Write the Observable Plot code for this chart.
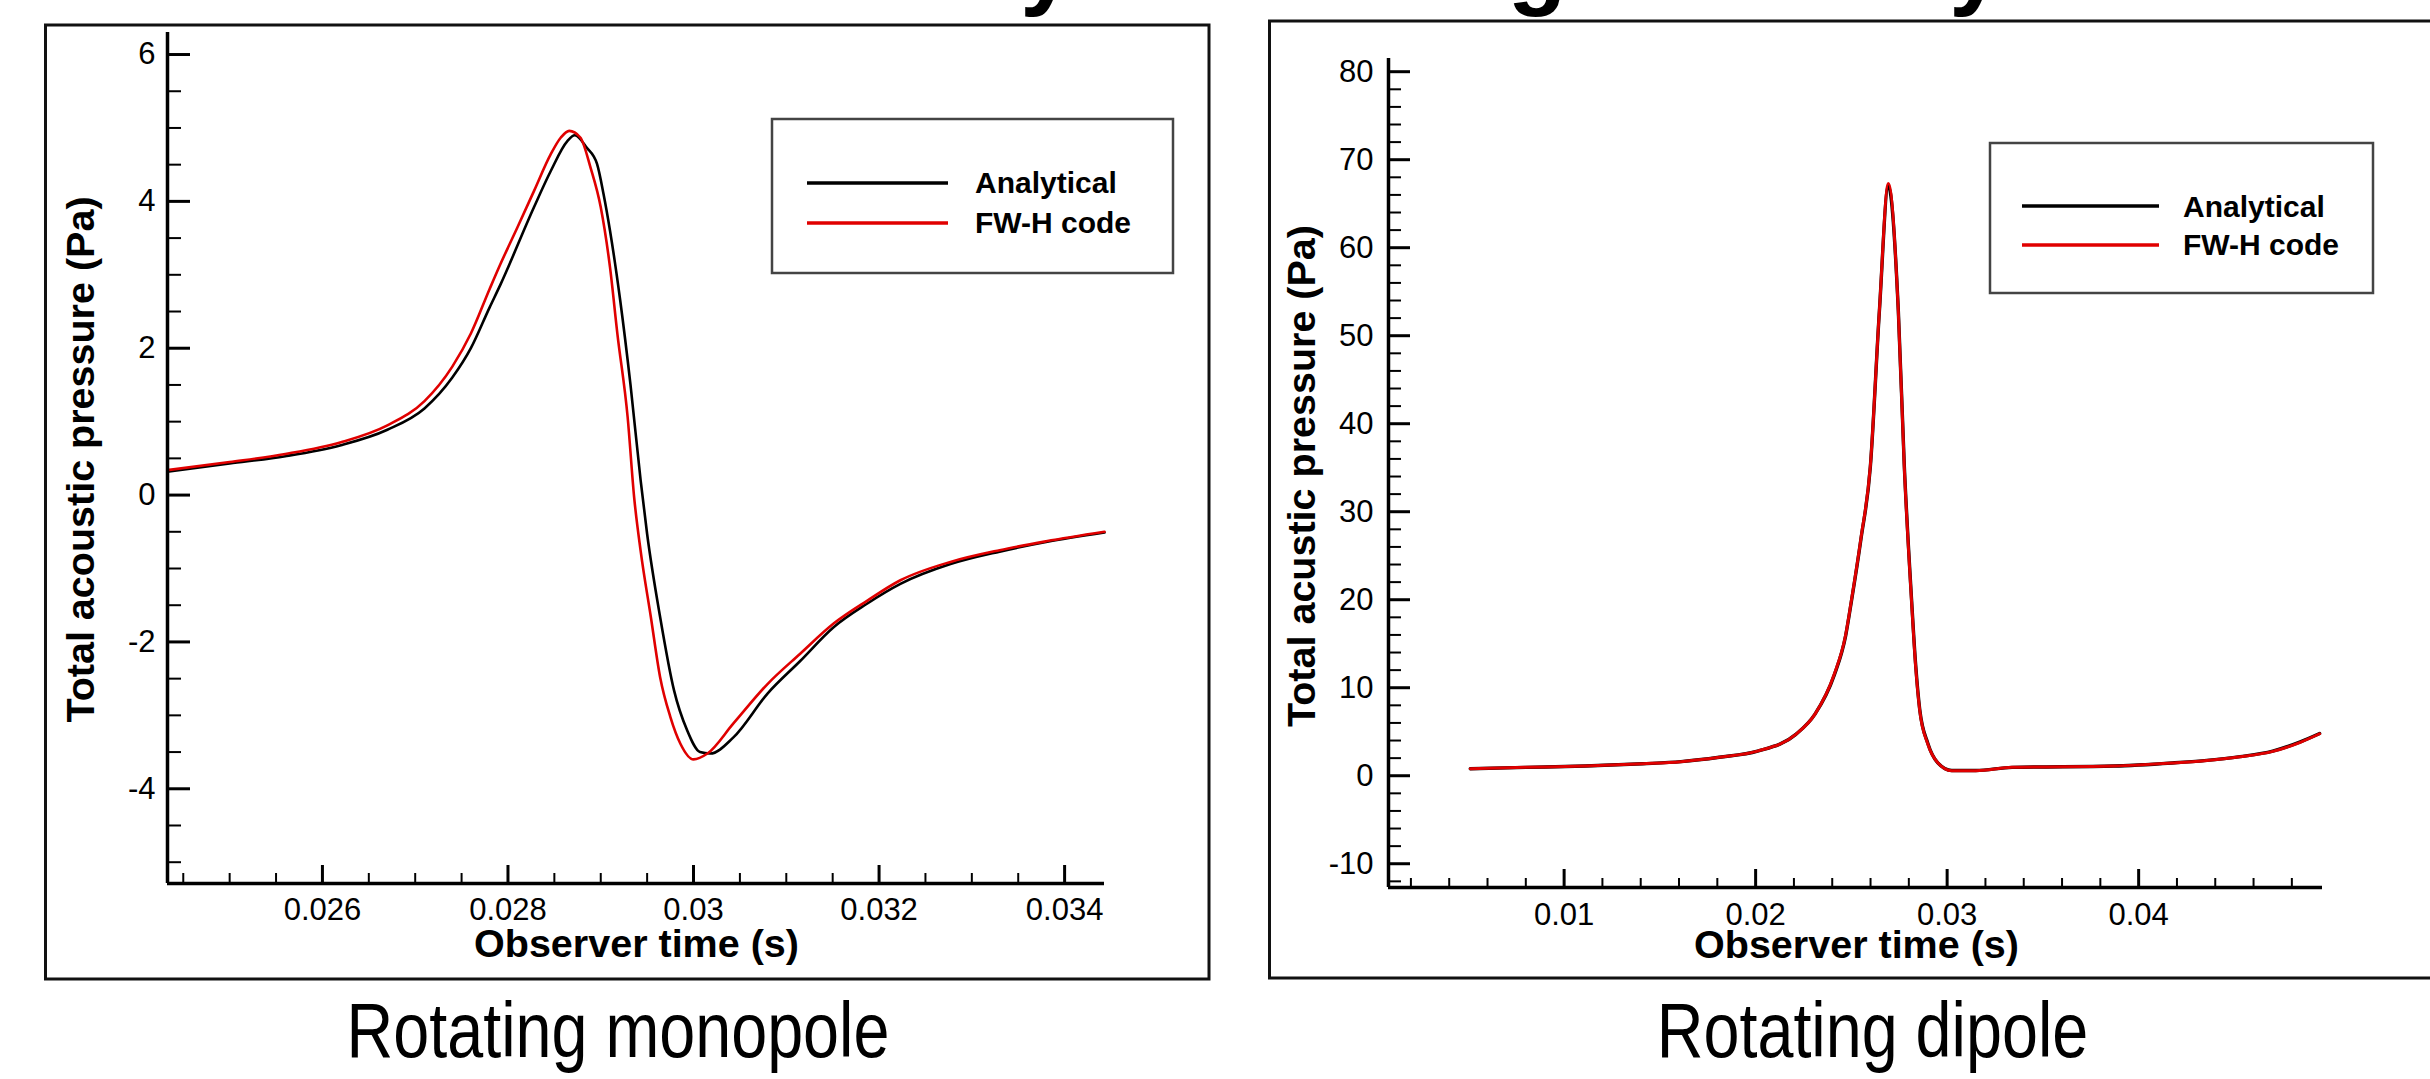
<!DOCTYPE html>
<html><head><meta charset="utf-8">
<script src="https://cdn.jsdelivr.net/npm/d3@7"></script>
<script src="https://cdn.jsdelivr.net/npm/@observablehq/plot@0.6"></script>
<style>
html,body{margin:0;padding:0;background:#fff;}
#root{position:relative;width:2430px;height:1079px;overflow:hidden;background:#fff;}
#root > svg, #root > figure{position:absolute;top:0;margin:0;}
</style></head><body><div id="root"></div>
<script>
// ---------- DATA ----------
const seriesNames = ["Analytical", "FW-H code"];
const panelCaptions = ["Rotating monopole", "Rotating dipole"];
const xTitle = "Observer time (s)";
const yTitles = ["Total acoustic pressure (Pa)", "Total acustic pressure (Pa)"];
const titleFragments = ["y", "g", "y"];

// Rotating monopole – FW-H code (red)
const monoFwhTime = [0.02433,0.0250,0.0256,0.0262,0.0267,0.0271,0.0274,0.0276,0.0278,0.02792,0.0281,0.02828,0.02846,0.02857,0.02866,0.02878,0.02889,0.0290,0.0291,0.02918,0.02929,0.02936,0.02943,0.02954,0.02964,0.02975,0.02986,0.0300,0.03015,0.03043,0.0308,0.03115,0.03151,0.03187,0.03223,0.03277,0.0333,0.0338,0.03443];
const monoFwhP    = [0.34,0.45,0.56,0.72,0.95,1.28,1.75,2.20,2.80,3.15,3.64,4.14,4.64,4.87,4.96,4.87,4.46,3.92,3.10,2.19,1.06,-0.03,-0.76,-1.66,-2.48,-3.02,-3.39,-3.60,-3.52,-3.11,-2.57,-2.16,-1.75,-1.44,-1.16,-0.91,-0.75,-0.63,-0.50];
// Rotating monopole – Analytical (black)
const monoAnaTime = [0.02433,0.0250,0.0256,0.0262,0.0267,0.0271,0.0274,0.0276,0.0278,0.02792,0.02828,0.02846,0.02864,0.02872,0.02885,0.02896,0.02903,0.0291,0.02921,0.02932,0.02943,0.0295,0.02964,0.02979,0.02993,0.03007,0.03018,0.03043,0.0308,0.03115,0.03151,0.03187,0.03223,0.03277,0.0333,0.0338,0.03443];
const monoAnaP    = [0.32,0.43,0.53,0.68,0.89,1.18,1.60,2.00,2.55,2.87,3.92,4.41,4.82,4.90,4.73,4.51,4.10,3.60,2.65,1.51,0.20,-0.53,-1.66,-2.66,-3.20,-3.50,-3.52,-3.30,-2.70,-2.26,-1.80,-1.48,-1.21,-0.94,-0.77,-0.64,-0.51];

// Rotating dipole – FW-H code (red)
const dipFwhTime = [0.0051,0.0080,0.0111,0.0141,0.0161,0.0181,0.0201,0.0221,0.0231,0.0241,0.0247,0.0250,0.0255,0.02599,0.02646,0.02693,0.02745,0.02776,0.02814,0.02836,0.02857,0.02899,0.0295,0.03024,0.0315,0.03339,0.0387,0.04175,0.04343,0.0453,0.047,0.04844,0.04945];
const dipFwhP    = [0.8,0.95,1.1,1.36,1.6,2.1,2.8,4.7,7.0,11.5,16.0,19.9,27.0,35.2,52.8,67.3,52.8,35.2,19.9,12.3,7.4,3.6,1.5,0.57,0.57,0.95,1.1,1.44,1.7,2.15,2.77,3.8,4.77];
// Rotating dipole – Analytical (black)
const dipAnaTime = [0.0051,0.0080,0.0111,0.0141,0.0161,0.0181,0.0201,0.0221,0.0231,0.0241,0.0247,0.0250,0.0255,0.02599,0.02646,0.02693,0.02745,0.02776,0.02814,0.02836,0.02857,0.02899,0.0295,0.03024,0.0315,0.03339,0.0387,0.04175,0.04343,0.0453,0.047,0.04844,0.04945];
const dipAnaP    = [0.8,0.95,1.1,1.36,1.6,2.1,2.8,4.7,7.0,11.4,15.9,19.8,26.9,35.1,52.7,67.0,52.9,35.4,20.1,12.5,7.5,3.7,1.5,0.6,0.6,0.95,1.1,1.45,1.72,2.17,2.8,3.85,4.8];

// Tick values
const monoXMajor = [0.026, 0.028, 0.03, 0.032, 0.034];
const monoXMinor = [0.0245,0.025,0.0255,0.0265,0.027,0.0275,0.0285,0.029,0.0295,0.0305,0.031,0.0315,0.0325,0.033,0.0335];
const monoYMajor = [-4, -2, 0, 2, 4, 6];
const monoYMinor = [-5,-4.5,-3.5,-3,-2.5,-1.5,-1,-0.5,0.5,1,1.5,2.5,3,3.5,4.5,5,5.5];
const dipXMajor = [0.01, 0.02, 0.03, 0.04];
const dipXMinor = [0.002,0.004,0.006,0.008,0.012,0.014,0.016,0.018,0.022,0.024,0.026,0.028,0.032,0.034,0.036,0.038,0.042,0.044,0.046,0.048];
const dipYMajor = [-10, 0, 10, 20, 30, 40, 50, 60, 70, 80];
const dipYMinor = [-12,-8,-6,-4,-2,2,4,6,8,12,14,16,18,22,24,26,28,32,34,36,38,42,44,46,48,52,54,56,58,62,64,66,68,72,74,76,78];

// ---------- BUILD ----------
const FONT = "'Liberation Sans', Arial, Helvetica, sans-serif";
const RED = "#e00000";
const rows = (ts, ps) => ts.map((t, i) => ({t, p: ps[i]}));
const fmt = d => String(d);

function panel({width, xDomain, yDomain, margins, ana, fwh, xMaj, xMin, yMaj, yMin, lw, ticks}) {
  return Plot.plot({
    width, height: 1079,
    marginLeft: margins[0], marginRight: margins[1], marginTop: margins[2], marginBottom: margins[3],
    x: {domain: xDomain},
    y: {domain: yDomain},
    style: {fontFamily: FONT, fontSize: "31px", color: "#000", background: "transparent", overflow: "visible"},
    marks: [
      Plot.line(ana, {x: "t", y: "p", stroke: "#000", strokeWidth: lw[0], curve: "monotone-x"}),
      Plot.line(fwh, {x: "t", y: "p", stroke: RED, strokeWidth: lw[1], curve: "monotone-x"}),
      Plot.axisX(xMin, {tickSize: -ticks.xMinor, strokeWidth: 2, tickFormat: () => "", label: null}),
      Plot.axisX(xMaj, {tickSize: -ticks.xMajor, strokeWidth: 3, tickPadding: ticks.xMajor + ticks.xPad, tickFormat: fmt, label: null}),
      Plot.axisY(yMin, {tickSize: -ticks.yMinor, strokeWidth: 2, tickFormat: () => "", label: null}),
      Plot.axisY(yMaj, {tickSize: -ticks.yMajor, strokeWidth: 3, tickPadding: ticks.yMajor + ticks.yPad, tickFormat: fmt, label: null}),
      Plot.ruleX([xDomain[0]], {strokeWidth: 3.5}),
      Plot.ruleY([yDomain[0]], {strokeWidth: 3.5})
    ]
  });
}

const root = document.getElementById("root");

const left = panel({
  width: 1240, xDomain: [0.02433, 0.03443], yDomain: [-5.29, 6.30], margins: [167, 136, 32, 196],
  ana: rows(monoAnaTime, monoAnaP), fwh: rows(monoFwhTime, monoFwhP),
  xMaj: monoXMajor, xMin: monoXMinor, yMaj: monoYMajor, yMin: monoYMinor, lw: [2.6, 2.6],
  ticks: {xMajor: 18, xMinor: 10, yMajor: 23, yMinor: 14, xPad: 14, yPad: 12}
});
left.style.left = "0px";
root.appendChild(left);

const right = panel({
  width: 1190, xDomain: [0.00083, 0.0496], yDomain: [-12.7, 81.5], margins: [148, 108, 58, 192],
  ana: rows(dipAnaTime, dipAnaP), fwh: rows(dipFwhTime, dipFwhP),
  xMaj: dipXMajor, xMin: dipXMinor, yMaj: dipYMajor, yMin: dipYMinor, lw: [3.4, 3.0],
  ticks: {xMajor: 18, xMinor: 9, yMajor: 22, yMinor: 13, xPad: 15, yPad: 15}
});
right.style.left = "1240px";
root.appendChild(right);

// overlay: frames, legends, titles, captions
const ov = d3.create("svg").attr("width", 2430).attr("height", 1079)
  .style("position", "absolute").style("left", "0px").style("top", "0px")
  .style("font-family", FONT);

// panel frames
ov.append("rect").attr("x", 45.5).attr("y", 25).attr("width", 1163.5).attr("height", 954)
  .attr("fill", "none").attr("stroke", "#111").attr("stroke-width", 3);
ov.append("rect").attr("x", 1269.5).attr("y", 21).attr("width", 1300).attr("height", 957)
  .attr("fill", "none").attr("stroke", "#111").attr("stroke-width", 3);

// cropped title fragments at very top
[[1047, 0], [1537, 1], [1976, 2]].forEach(([x, i]) => {
  ov.append("text").attr("x", x).attr("y", -3).attr("text-anchor", "middle")
    .attr("font-size", 96).attr("font-weight", "bold").text(titleFragments[i]);
});

// legends
function legend(box, lineX, lineY, textX, baseY) {
  ov.append("rect").attr("x", box[0]).attr("y", box[1]).attr("width", box[2] - box[0]).attr("height", box[3] - box[1])
    .attr("fill", "#fff").attr("stroke", "#444").attr("stroke-width", 2.5);
  const colors = ["#000", RED];
  seriesNames.forEach((name, i) => {
    ov.append("line").attr("x1", lineX[0]).attr("x2", lineX[1]).attr("y1", lineY[i]).attr("y2", lineY[i])
      .attr("stroke", colors[i]).attr("stroke-width", 3.5);
    ov.append("text").attr("x", textX).attr("y", baseY[i]).attr("font-size", 30).attr("font-weight", "bold").text(name);
  });
}
legend([772, 119, 1173, 273], [807, 948], [183, 223], 975, [193, 233]);
legend([1990, 143, 2373, 293], [2022, 2159], [206, 245], 2183, [217, 255]);

// axis titles
[[636.5, 957], [1856.5, 958]].forEach(([x, y]) => {
  ov.append("text").attr("x", x).attr("y", y).attr("text-anchor", "middle")
    .attr("font-size", 39.5).attr("font-weight", "bold").text(xTitle);
});
[[94, 459.5, 0], [1315, 476, 1]].forEach(([x, y, i]) => {
  ov.append("text").attr("transform", `translate(${x},${y}) rotate(-90)`).attr("text-anchor", "middle")
    .attr("font-size", 39.5).attr("font-weight", "bold").text(yTitles[i]);
});

// captions
[[618, 0], [1872.5, 1]].forEach(([x, i]) => {
  ov.append("text").attr("transform", `translate(${x},1057) scale(0.84,1)`).attr("text-anchor", "middle")
    .attr("font-size", 77).text(panelCaptions[i]);
});

root.appendChild(ov.node());
</script>
</body></html>
